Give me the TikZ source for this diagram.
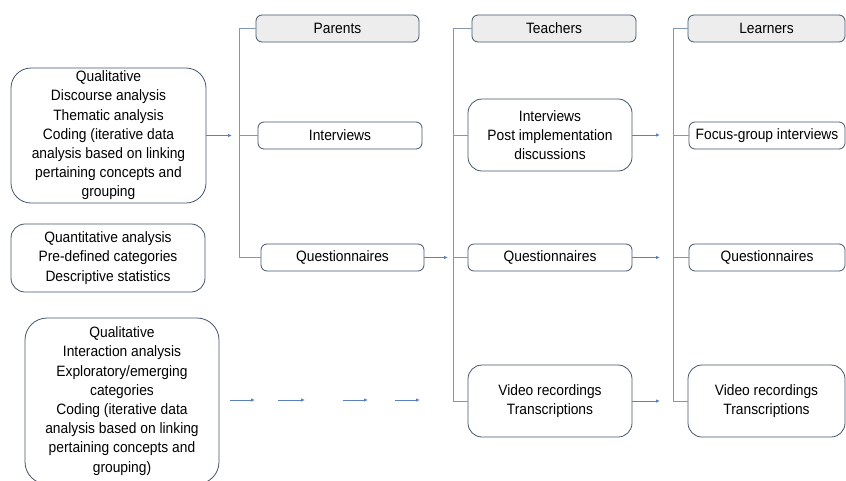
\documentclass[tikz,border=0pt]{standalone}
\usepackage{fontspec}
\setmainfont{Liberation Sans}[FakeStretch=0.92]
\usetikzlibrary{arrows.meta}
\definecolor{boxline}{HTML}{44546A}
\definecolor{hdrfill}{HTML}{EDEDED}
\definecolor{brk}{HTML}{8497B0}
\definecolor{arr}{HTML}{5B7FC0}
\tikzset{
  box/.style={draw=boxline, line width=0.8pt, rounded corners=6pt, align=center,
    inner sep=0pt, font=\fontsize{15}{19.2}\selectfont},
  hdr/.style={box, fill=hdrfill},
  brkline/.style={draw=brk, line width=0.8pt},
  arrline/.style={draw=arr, line width=0.8pt, -{Latex[length=4pt,width=3.5pt]}},
}
\begin{document}
\begin{tikzpicture}[x=1pt,y=-1pt]
\useasboundingbox (0,0) rectangle (846,480);
% headers
\node[hdr, minimum width=163pt, minimum height=27pt] (parents) at (337.5,28.5) {Parents};
\node[hdr, minimum width=164pt, minimum height=27pt] (teachers) at (554,28.5) {Teachers};
\node[hdr, minimum width=157pt, minimum height=27pt] (learners) at (766.5,28.5) {Learners};
% parents column
\node[box, minimum width=164pt, minimum height=27pt] (pint) at (340,135.5) {Interviews};
\node[box, minimum width=163pt, minimum height=27pt] (pq) at (342.5,257.5) {Questionnaires};
% teachers column
\node[box, rounded corners=14pt, minimum width=164pt, minimum height=72pt] (tint) at (550,135) {Interviews\\Post implementation\\discussions};
\node[box, minimum width=164pt, minimum height=27pt] (tq) at (550,257.5) {Questionnaires};
\node[box, rounded corners=14pt, minimum width=164pt, minimum height=72pt] (tvid) at (550,401) {Video recordings\\Transcriptions};
% learners column
\node[box, minimum width=156pt, minimum height=27pt] (lint) at (767,135.5) {Focus-group interviews};
\node[box, minimum width=156pt, minimum height=27pt] (lq) at (767,257.5) {Questionnaires};
\node[box, rounded corners=14pt, minimum width=157pt, minimum height=72pt] (lvid) at (766.5,401) {Video recordings\\Transcriptions};
% left analysis boxes
\node[box, rounded corners=20pt, minimum width=195pt, minimum height=135pt] (q1) at (108.5,135.5)
  {Qualitative\\Discourse analysis\\Thematic analysis\\Coding (iterative data\\analysis based on linking\\pertaining concepts and\\grouping};
\node[box, rounded corners=14pt, minimum width=194pt, minimum height=68pt] (qt) at (108,258)
  {Quantitative analysis\\Pre-defined categories\\Descriptive statistics};
\node[box, rounded corners=22pt, minimum width=194pt, minimum height=166pt] (q2) at (122,401)
  {Qualitative\\Interaction analysis\\Exploratory/emerging\\categories\\Coding (iterative data\\analysis based on linking\\pertaining concepts and\\grouping)};
% bracket x positions
\coordinate (pbx) at (239,0);
\coordinate (tbx) at (453,0);
\coordinate (lbx) at (673,0);
% parents bracket
\draw[brkline] (parents.west) -- (parents.west -| pbx) -- (pq.west -| pbx) -- (pq.west);
\draw[brkline] (pint.west) -- (pint.west -| pbx);
% teachers bracket
\draw[brkline] (teachers.west) -- (teachers.west -| tbx) -- (tvid.west -| tbx) -- (tvid.west);
\draw[brkline] (tint.west) -- (tint.west -| tbx);
\draw[brkline] (tq.west) -- (tq.west -| tbx);
% learners bracket
\draw[brkline] (learners.west) -- (learners.west -| lbx) -- (lvid.west -| lbx) -- (lvid.west);
\draw[brkline] (lint.west) -- (lint.west -| lbx);
\draw[brkline] (lq.west) -- (lq.west -| lbx);
% arrows
\coordinate (a1) at (232,135.5);
\coordinate (a2) at (448,257.5);
\coordinate (a3) at (660,135);
\coordinate (a4) at (660,257.5);
\coordinate (a5) at (660,401);
\draw[arrline] (q1.east) -- (a1);
\draw[arrline] (pq.east) -- (a2);
\draw[arrline] (tint.east) -- (a3);
\draw[arrline] (tq.east) -- (a4);
\draw[arrline] (tvid.east) -- (a5);
% broken arrow chain
\coordinate (d1s) at (230,400); \coordinate (d1e) at (255,400);
\coordinate (d2s) at (278,400); \coordinate (d2e) at (305,400);
\coordinate (d3s) at (343,400); \coordinate (d3e) at (368,400);
\coordinate (d4s) at (395,400); \coordinate (d4e) at (420,400);
\draw[arrline] (d1s) -- (d1e);
\draw[arrline] (d2s) -- (d2e);
\draw[arrline] (d3s) -- (d3e);
\draw[arrline] (d4s) -- (d4e);
\end{tikzpicture}
\end{document}
